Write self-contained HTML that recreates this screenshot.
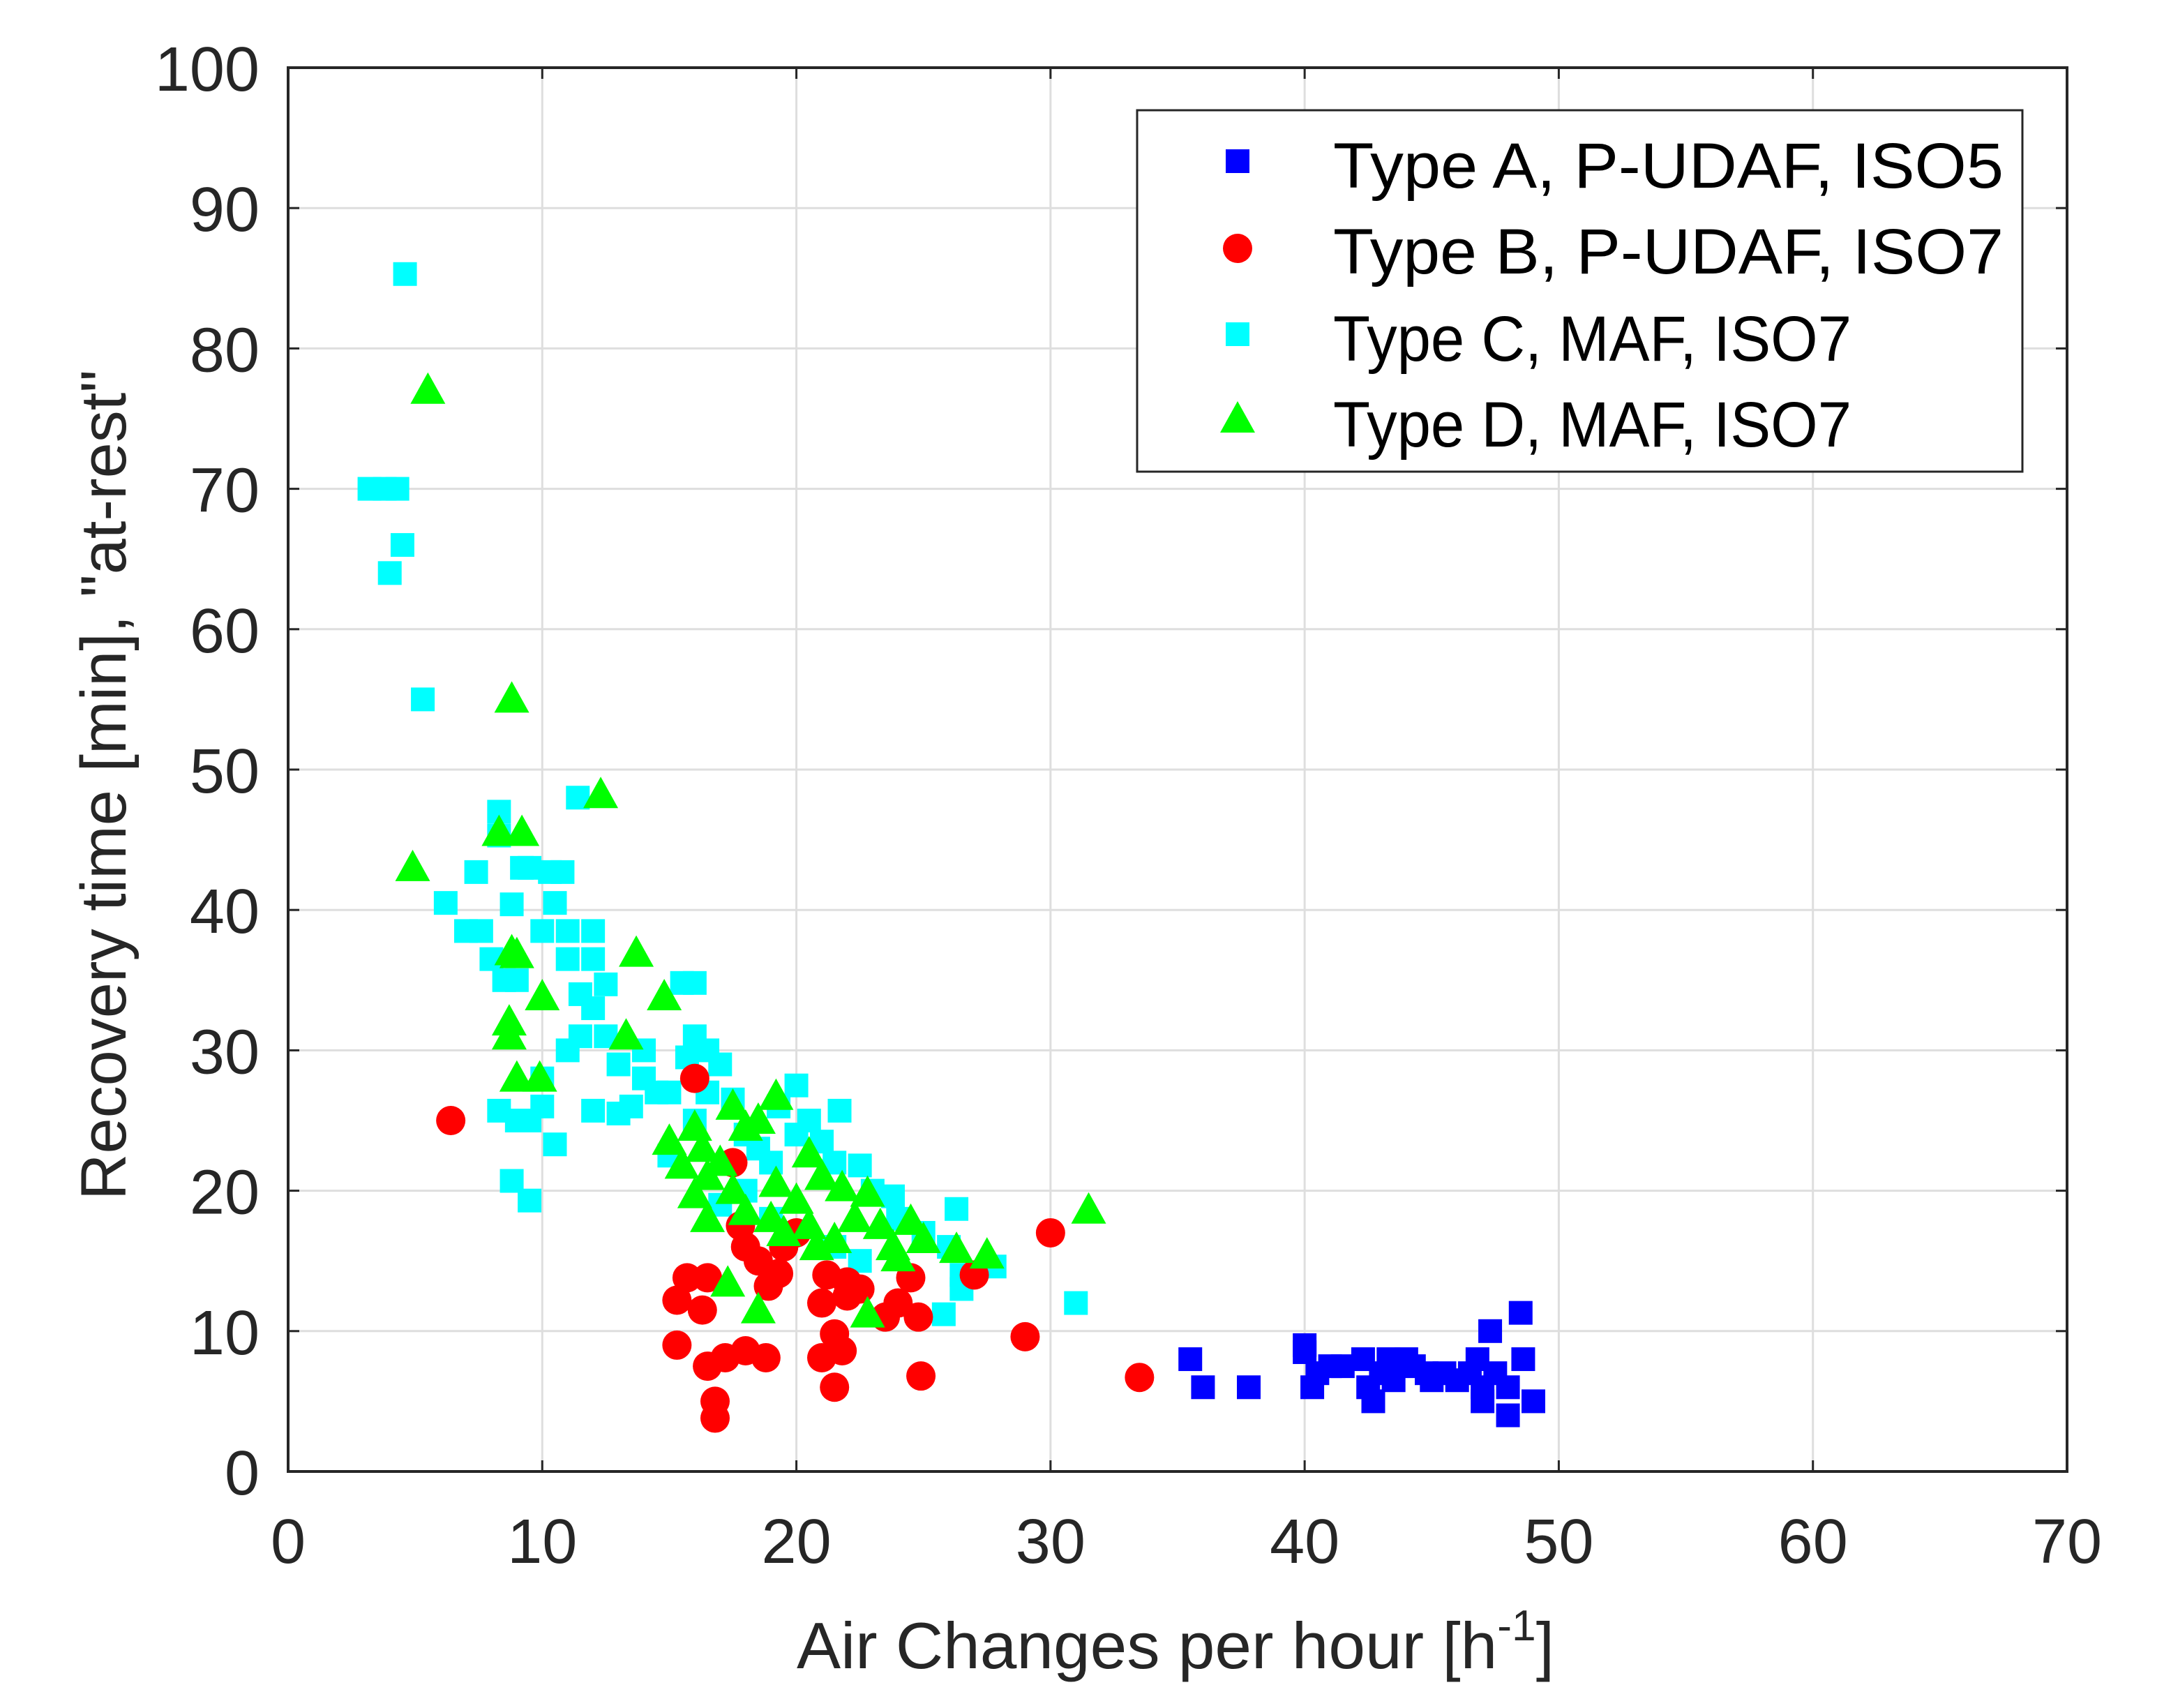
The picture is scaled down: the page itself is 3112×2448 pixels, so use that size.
<!DOCTYPE html>
<html><head><meta charset="utf-8"><style>
html,body{margin:0;padding:0;background:#fff;}
svg{display:block;font-family:"Liberation Sans",Arial,sans-serif;}
</style></head><body>
<svg id="chart" width="3112" height="2448" viewBox="0 0 3112 2448" xmlns="http://www.w3.org/2000/svg">
<rect width="3112" height="2448" fill="#fff"/>
<g id="grid"></g>
<g id="marks"></g>
<g id="axes"></g>
<text x="1142" y="2391" font-size="94" textLength="1086" lengthAdjust="spacingAndGlyphs" fill="#262626">Air Changes per hour [h<tspan font-size="62" dy="-40">-1</tspan><tspan dy="40">]</tspan></text>
<text transform="translate(180,1125) rotate(-90)" font-size="92" text-anchor="middle" textLength="1190" lengthAdjust="spacingAndGlyphs" fill="#262626">Recovery time [min], "at-rest"</text>
<g id="legend"></g>
</svg>
<script>
const xTicks=[0,10,20,30,40,50,60,70];
const yTicks=[0,10,20,30,40,50,60,70,80,90,100];
const seriesNames=["Type A, P-UDAF, ISO5","Type B, P-UDAF, ISO7","Type C, MAF, ISO7","Type D, MAF, ISO7"];
const typeAx=[35.5,36,37.8,40,40,40.3,40.5,41,41.5,42.3,42.5,42.7,43,43.3,43.5,44,44.3,44.8,45,45.5,46,46.5,46.8,47,47,47.3,47.5,48,48,48.5,48.6,49];
const typeAy=[8,6,6,8.5,9,6,7,7.5,7.5,8,6,5,7,8,6.5,8,7.5,7,6.5,7,6.5,7,8,6,5,10,7,4,6,11.3,8,5];
const typeBx=[6.4,15.3,15.3,15.7,16.3,16.5,16.5,16.8,16.8,17.2,17.8,18,18,18.5,18.8,18.9,19.3,19.5,21,21,21.2,21.5,21.5,21.8,22,22,22.5,23.5,24,24.5,24.8,24.9,29,30,33.5,16,17.5,20,27];
const typeBy=[25,12.2,9,13.8,11.5,13.8,7.5,5,3.8,8.1,17.5,16,8.6,15,8.1,13.2,14.1,16,12,8.1,14,6,9.8,8.6,12.5,13.5,13,11,12,13.8,11,6.8,9.6,17,6.7,28,22,17,14];
const typeCx=[3.2,3.8,4.3,4,4.5,4.6,5.3,6.2,7,7.4,7.6,8,8.3,8.3,8.5,8.8,9,9.2,9.5,10,10.3,10.5,10.8,11,11.4,11,11.5,12,12,12.5,8.3,8.8,9,9.5,9.5,10,10.5,10,11,11.5,12,12.5,12,13,13,13.5,14,14,14.5,15,15.5,16,15,15.7,16,16.5,17,16,16.5,17.5,18,18.5,19,19.3,20,20,20.5,21,21.5,21.7,22.5,23,23.8,24,25,26,26.3,26.5,25.8,26.5,27.8,31,17,18,19,21.5,22.5];
const typeCy=[70,70,70,64,66,85.3,55,40.5,38.5,42.7,38.5,36.5,47,45.3,35,40.4,35,43,43,38.5,42.7,40.5,42.7,38.5,48,36.5,34,38.5,36.5,34.7,25.7,20.7,25,19.3,25,26,23.3,28,30,31,33,31,25.7,25.5,29,26,28,30,27,22.5,34.8,34.8,27,29.5,31,30,29,25,27,26.5,24,23,22,26,27.5,24,25,23.5,22,25.7,21.8,20,19.6,18,17,16,18.7,14,11.2,13,14.6,12,19,20,18,16,15];
const typeDx=[4.9,5.5,8.3,8.8,9.2,8.8,9,10,8.7,8.7,9,9.9,12.3,13.3,13.7,14.8,15,15.5,16,16,16.3,16.5,16.5,17,17.5,17.5,17.3,18,18,18.5,18.5,19.2,19.2,19,20,20.5,20.5,21,21.5,21.8,22.3,22.8,22.8,23.3,23.8,24,24.5,25,26.3,27.5,31.5,19.5,20.8];
const typeDy=[43,77,45.5,55,45.5,37,36.8,33.8,32,31,28,28,48.2,31,36.9,33.8,23.5,21.8,24.5,19.7,23,21,18,22,20,26,13.4,24.5,18.5,25,11.5,26.7,20.5,18,19.3,22.6,17.5,21,16.5,20.2,18,19.8,11.2,17.5,16,15.2,17.8,16.5,15.8,15.4,18.6,17,16];

const X0=413,X1=2963,Y0=2109,Y1=97;
const sx=v=>X0+(v-0)/(70-0)*(X1-X0);
const sy=v=>Y0-(v-0)/(100-0)*(Y0-Y1);
const NS="http://www.w3.org/2000/svg";
function mk(tag,attrs,parent){const e=document.createElementNS(NS,tag);for(const k in attrs)e.setAttribute(k,attrs[k]);parent.appendChild(e);return e;}
const grid=document.getElementById('grid'),axes=document.getElementById('axes'),marks=document.getElementById('marks'),legend=document.getElementById('legend');

xTicks.forEach(t=>{
  const g=mk('line',{x1:sx(t),x2:sx(t),y1:Y0,y2:Y1,stroke:'#dedede','stroke-width':3},grid);
  
  
  mk('line',{x1:sx(t),x2:sx(t),y1:Y0,y2:Y0-16,stroke:'#262626','stroke-width':3},axes);
  mk('line',{x1:sx(t),x2:sx(t),y1:Y1,y2:Y1+16,stroke:'#262626','stroke-width':3},axes);
  const l=mk('text',{x:sx(t),y:2240,'font-size':90,'text-anchor':'middle',fill:'#262626'},axes);
  l.textContent=t;
  
  
});
yTicks.forEach(t=>{
  const g=mk('line',{x1:X0,x2:X1,y1:sy(t),y2:sy(t),stroke:'#dedede','stroke-width':3},grid);
  
  
  mk('line',{x1:X0,x2:X0+16,y1:sy(t),y2:sy(t),stroke:'#262626','stroke-width':3},axes);
  mk('line',{x1:X1,x2:X1-16,y1:sy(t),y2:sy(t),stroke:'#262626','stroke-width':3},axes);
  const l=mk('text',{x:372,y:sy(t)+33,'font-size':90,'text-anchor':'end',fill:'#262626'},axes);
  l.textContent=t;
  
  
});
const frame=mk('rect',{x:X0,y:Y1,width:X1-X0,height:Y0-Y1,fill:'none',stroke:'#262626','stroke-width':4},axes);



function marker(type,cx,cy,parent){
  let e;
  if(type===0) e=mk('rect',{x:cx-17,y:cy-17,width:34,height:34,fill:'#0000ff'},parent);
  else if(type===1) e=mk('circle',{cx:cx,cy:cy,r:21,fill:'#ff0000'},parent);
  else if(type===2) e=mk('rect',{x:cx-17,y:cy-17,width:34,height:34,fill:'#00ffff'},parent);
  else e=mk('polygon',{points:`${cx},${cy-26} ${cx-25},${cy+19} ${cx+25},${cy+19}`,fill:'#00ff00'},parent);
  return e;
}
const order=[[typeCx,typeCy,2,'type-c-point'],[typeBx,typeBy,1,'type-b-point'],[typeDx,typeDy,3,'type-d-point'],[typeAx,typeAy,0,'type-a-point']];
order.forEach(([xs,ys,t,name])=>{
  xs.forEach((v,i)=>{
    const e=marker(t,sx(v),sy(ys[i]),marks);
    
    
  });
});

const box=mk('rect',{x:1630,y:158,width:1269,height:518,fill:'#fff',stroke:'#262626','stroke-width':3},legend);


const ly=[231,356,479,601];
const lb=[269,392,517,640];
const lw=[961,961,743,743];
seriesNames.forEach((n,i)=>{
  const m=marker(i,1774,ly[i],legend);
  
  
  const t=mk('text',{x:1911,y:lb[i],'font-size':92,fill:'#000',textLength:lw[i],lengthAdjust:'spacingAndGlyphs'},legend);
  t.textContent=n;
  
  
});
</script>
</body></html>
